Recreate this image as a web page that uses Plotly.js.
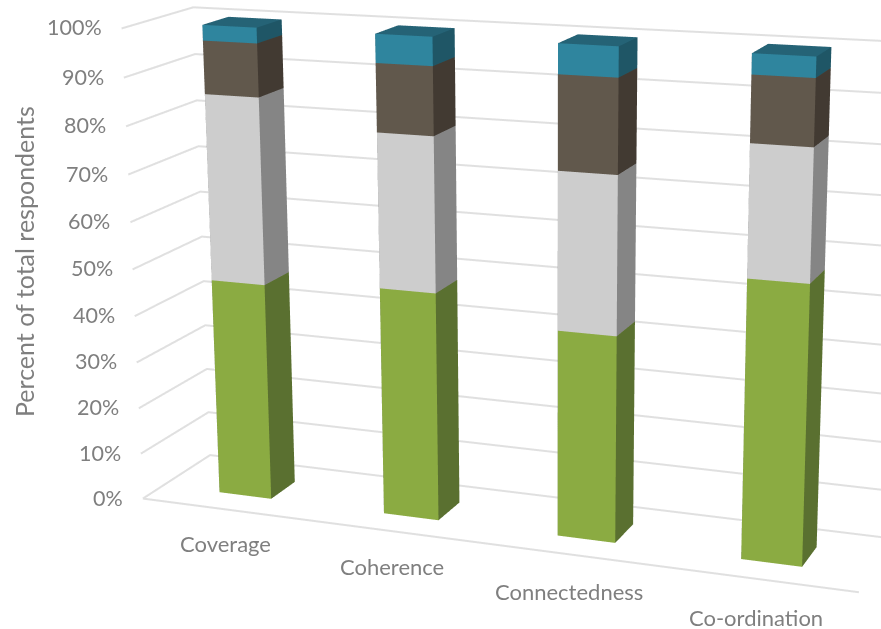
<!DOCTYPE html>
<html>
<head>
<meta charset="utf-8">
<script src="https://cdn.plot.ly/plotly-3.0.1.min.js"></script>
<style>html,body{margin:0;padding:0;background:#fff;overflow:hidden}#chart{width:881px;height:629px}</style>
</head>
<body>
<div id="chart"></div>
<script>
// Survey results: stacked share of respondents per criterion, drawn as 3D columns.
var categories = ['Coverage', 'Coherence', 'Connectedness', 'Co-ordination'];
var greenShare = [46.6, 48.2, 42.9, 56.8];
var greyShare  = [39.2, 32.05, 32.2, 26.2];
var brownShare = [11.0, 13.95, 18.9, 13.0];
var tealShare  = [3.2, 5.8, 6.0, 4.0];
var percentTicks = [0, 10, 20, 30, 40, 50, 60, 70, 80, 90, 100];

var stackOrder = [
  {values: greenShare, front: '#8BAB42', side: '#5A7030', top: '#6E8A35'},
  {values: greyShare,  front: '#CDCDCD', side: '#858585', top: '#A8A8A8'},
  {values: brownShare, front: '#61584C', side: '#423A32', top: '#50473D'},
  {values: tealShare,  front: '#2F859E', side: '#1F5666', top: '#256376'}
];

var barHalfWidth = 0.16, barOffset = 0.491, depthNear = 0.30, depthFar = 0.675;
var wallStart = -0.02;
var gridColor = '#E0E0E0', textColor = '#7F7F7F', fontFamily = 'Lato, "Open Sans", sans-serif';

// One cuboid per segment: front, right side and top carry separate flat colours.
function cuboidTrace(x0, x1, z0, z1, seg, label) {
  var y0 = depthNear, y1 = depthFar;
  return {
    type: 'mesh3d', name: label, hoverinfo: 'skip', flatshading: true, showscale: false,
    x: [x0, x1, x1, x0, x0, x1, x1, x0],
    y: [y0, y0, y1, y1, y0, y0, y1, y1],
    z: [z0, z0, z0, z0, z1, z1, z1, z1],
    i: [0, 0, 1, 1, 4, 4, 0, 0, 3, 3],
    j: [1, 5, 2, 6, 5, 6, 3, 7, 2, 6],
    k: [5, 4, 6, 5, 6, 7, 7, 4, 6, 7],
    facecolor: [seg.front, seg.front, seg.side, seg.side, seg.top, seg.top, seg.side, seg.side, seg.side, seg.side],
    lighting: {ambient: 1, diffuse: 0, specular: 0, roughness: 1, fresnel: 0},
    lightposition: {x: 0, y: 0, z: 1000}
  };
}

var traces = [];

// Gridlines run along the left wall and then along the back wall.
percentTicks.forEach(function (t) {
  traces.push({
    type: 'scatter3d', mode: 'lines', hoverinfo: 'skip', showlegend: false,
    x: [wallStart, wallStart, categories.length], y: [0, 1, 1], z: [t, t, t],
    line: {color: gridColor, width: 4}
  });
});
traces.push({
  type: 'scatter3d', mode: 'lines', hoverinfo: 'skip', showlegend: false,
  x: [wallStart, categories.length], y: [0, 0], z: [0, 0],
  line: {color: gridColor, width: 4}
});

categories.forEach(function (name, c) {
  var base = 0;
  stackOrder.forEach(function (seg) {
    var v = seg.values[c];
    traces.push(cuboidTrace(c + barOffset - barHalfWidth, c + barOffset + barHalfWidth, base, base + v, seg, name));
    base += v;
  });
});

var sceneNotes = percentTicks.map(function (t) {
  return {x: wallStart, y: 0, z: t, text: t + '%', showarrow: false, xanchor: 'right', xshift: -18, yshift: 1,
          font: {family: fontFamily, size: 21.5, color: textColor}};
}).concat(categories.map(function (name, c) {
  return {x: c + 0.5, y: 0, z: 0, text: name, showarrow: false, xanchor: 'center',
          xshift: -1.7 - 0.9 * c, yshift: -33.5 - 1.4 * c,
          font: {family: fontFamily, size: 22, color: textColor}};
}));

var hiddenAxis = function (range) {
  return {range: range, visible: false, showgrid: false, zeroline: false, showspikes: false};
};

var layout = {
  width: 881, height: 629, margin: {l: 0, r: 0, t: 0, b: 0},
  paper_bgcolor: '#fff', showlegend: false,
  annotations: [{
    xref: 'paper', yref: 'paper', x: 24 / 881, y: 1 - 262 / 629, xanchor: 'center', yanchor: 'middle',
    text: 'Percent of total respondents', textangle: -90, showarrow: false,
    font: {family: fontFamily, size: 25, color: textColor}
  }],
  scene: {
    domain: {x: [0, 1], y: [0, 1]},
    bgcolor: '#fff',
    dragmode: false,
    // Ranges sit just outside the walls so the wall lines are not cut by the scene's clip box.
    xaxis: hiddenAxis([wallStart - 0.01, categories.length + 0.01]),
    yaxis: hiddenAxis([-0.01, 1.01]),
    zaxis: hiddenAxis([-1, 101]),
    aspectmode: 'manual',
    aspectratio: {x: 0.7688, y: 0.15749, z: 0.50847},
    camera: {
      up: {x: 0.0107, y: 0.0044, z: 1},
      center: {x: -0.0585, y: -0.0335, z: -0.0295},
      eye: {x: 0.8583, y: -2.2653, z: 0.6255}
    },
    annotations: sceneNotes
  }
};

var gd = document.getElementById('chart');
Plotly.newPlot(gd, traces, layout, {displayModeBar: false, staticPlot: false}).then(function () {
  // Narrow field of view keeps the perspective convergence gentle.
  var gl3d = gd._fullLayout.scene._scene.glplot;
  gl3d.fovy = 0.2503;
  gl3d.redraw();
});
</script>
</body>
</html>
